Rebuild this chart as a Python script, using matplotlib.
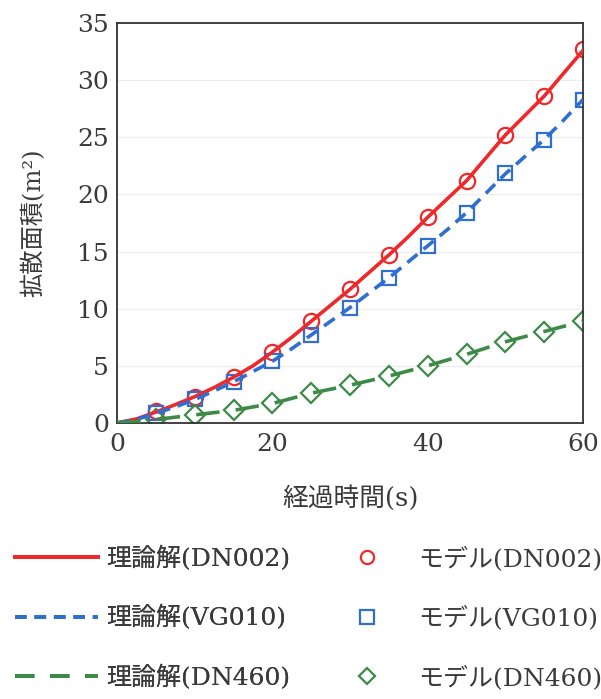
import matplotlib
matplotlib.use("Agg")
import matplotlib.pyplot as plt
from matplotlib.lines import Line2D

# ---- data ----
t_line = [0, 2.5, 5, 7.5, 10, 12.5, 15, 17.5, 20, 22.5, 25, 27.5, 30, 32.5, 35,
          37.5, 40, 42.5, 45, 47.5, 50, 52.5, 55, 57.5, 60]
theory_dn002 = [0, 0.35, 0.95, 1.6, 2.3, 3.1, 4.0, 5.0, 6.2, 7.5, 8.9, 10.3, 11.7,
                13.2, 14.7, 16.3, 18.0, 19.6, 21.2, 23.2, 25.2, 26.9, 28.6, 30.6, 32.6]
theory_vg010 = [0, 0.3, 0.85, 1.4, 2.05, 2.8, 3.6, 4.5, 5.4, 6.5, 7.7, 8.9, 10.1,
                11.4, 12.7, 14.1, 15.5, 16.9, 18.4, 20.1, 21.8, 23.3, 24.8, 26.5, 28.3]
theory_dn460 = [0, 0.12, 0.3, 0.5, 0.7, 0.9, 1.1, 1.4, 1.7, 2.15, 2.6, 2.95, 3.3,
                3.7, 4.1, 4.55, 5.0, 5.5, 6.0, 6.55, 7.1, 7.55, 8.0, 8.45, 8.9]

t_model = [5, 10, 15, 20, 25, 30, 35, 40, 45, 50, 55, 60]
model_dn002 = [1.0, 2.3, 4.0, 6.2, 8.9, 11.7, 14.7, 18.0, 21.2, 25.2, 28.6, 32.7]
model_vg010 = [0.9, 2.1, 3.6, 5.4, 7.7, 10.1, 12.7, 15.5, 18.4, 21.9, 24.8, 28.3]
model_dn460 = [0.3, 0.7, 1.1, 1.7, 2.6, 3.3, 4.1, 5.0, 6.0, 7.1, 8.0, 8.9]

x_ticks = [0, 20, 40, 60]
y_ticks = [0, 5, 10, 15, 20, 25, 30, 35]

labels_theory = ["理論解(DN002)", "理論解(VG010)", "理論解(DN460)"]
labels_model = ["モデル(DN002)", "モデル(VG010)", "モデル(DN460)"]
x_label = "経過時間(s)"
y_label = "拡散面積(m²)"

RED = "#f0282a"
BLUE = "#2f6fd0"
GREEN = "#3c8a46"
TXT = "#3a3a3a"
plt.rcParams["font.family"] = ["DejaVu Serif", "Noto Sans CJK JP"]

fig = plt.figure(figsize=(6.01, 6.99), dpi=100)
ax = fig.add_axes([0.195, 0.395, 0.775, 0.572])

# markers (drawn beneath lines)
ax.plot(t_model, model_dn002, linestyle="none", marker="o", ms=11, mfc="none",
        mec=RED, mew=1.6, zorder=2)
ax.plot(t_model, model_vg010, linestyle="none", marker="s", ms=10.5, mfc="none",
        mec=BLUE, mew=1.6, zorder=2)
ax.plot(t_model, model_dn460, linestyle="none", marker="D", ms=10, mfc="none",
        mec=GREEN, mew=1.6, zorder=2)

# theory lines
ax.plot(t_line, theory_dn002, color=RED, lw=2.6, zorder=3)
ax.plot(t_line, theory_vg010, color=BLUE, lw=2.6, dashes=(3.6, 2.2), zorder=3)
ax.plot(t_line, theory_dn460, color=GREEN, lw=2.6, dashes=(6.5, 4.5), zorder=3)

ax.set_xlim(0, 60)
ax.set_ylim(0, 35)
ax.set_xticks(x_ticks)
ax.set_yticks(y_ticks)
ax.tick_params(axis="y", length=0, labelsize=18, labelcolor=TXT, pad=6)
ax.tick_params(axis="x", length=0, labelsize=18, labelcolor=TXT, pad=7)
ax.grid(axis="y", color="#ececec", lw=0.8)
ax.set_axisbelow(True)
for s in ax.spines.values():
    s.set_color("#333333")
    s.set_linewidth(1.3)

ax.set_xlabel(x_label, fontsize=18.5, color=TXT, labelpad=21)
ax.set_ylabel(y_label, fontsize=17.5, color=TXT, labelpad=23)

# legends
h_lines = [Line2D([], [], color=RED, lw=2.8),
           Line2D([], [], color=BLUE, lw=2.8, dashes=(3.0, 2.0)),
           Line2D([], [], color=GREEN, lw=2.8, dashes=(5, 4))]
h_marks = [Line2D([], [], ls="none", marker="o", ms=9.5, mfc="none", mec=RED, mew=1.6),
           Line2D([], [], ls="none", marker="s", ms=9.5, mfc="none", mec=BLUE, mew=1.6),
           Line2D([], [], ls="none", marker="D", ms=8.5, mfc="none", mec=GREEN, mew=1.6)]

common = dict(loc="upper left", frameon=False, prop={"size": 18},
              labelspacing=1.38, labelcolor=TXT, borderaxespad=0, borderpad=0)
leg1 = fig.legend(h_lines, labels_theory, bbox_to_anchor=(0.025, 0.219),
                  handlelength=3.3, handletextpad=0.35, **common)
leg2 = fig.legend(h_marks, labels_model, bbox_to_anchor=(0.590, 0.219),
                  handlelength=1.0, handletextpad=1.54, **common)
fig.add_artist(leg1)

fig.savefig("out.png", dpi=100)
